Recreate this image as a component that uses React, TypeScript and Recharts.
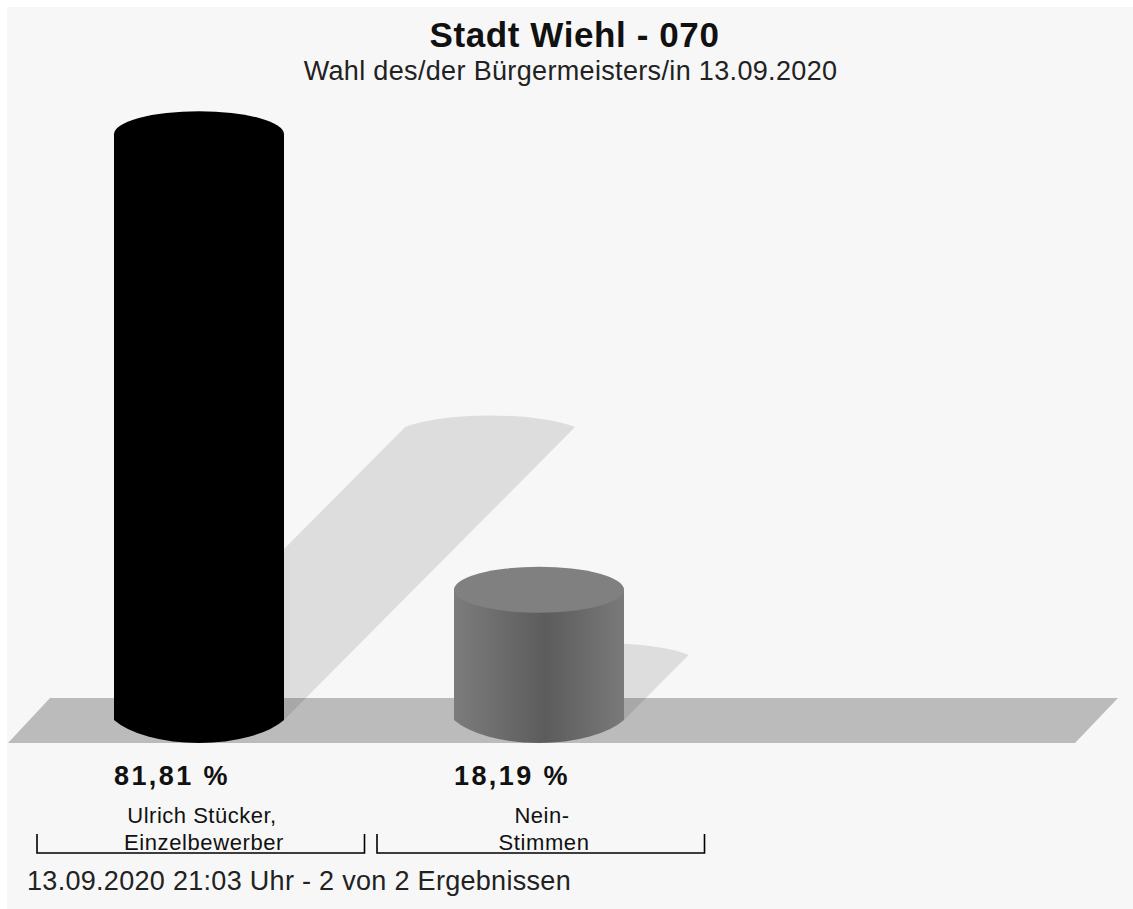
import React from "react";
import { BarChart, Bar, XAxis, YAxis, LabelList } from "recharts";

const categories = ["Ulrich Stücker,|Einzelbewerber", "Nein-|Stimmen"];
const shares = [81.81, 18.19];
const shareLabels = ["81,81 %", "18,19 %"];
const barFills = ["black", "grey"];
const titleText = "Stadt Wiehl - 070";
const subtitleText = "Wahl des/der Bürgermeisters/in 13.09.2020";
const footerText = "13.09.2020 21:03 Uhr - 2 von 2 Ergebnissen";

const data = categories.map((c, i) => ({ category: c, share: shares[i], label: shareLabels[i], fill: barFills[i] }));
const FONT = "'Liberation Sans', Arial, sans-serif";

const RX = 85, RY = 23;

function Cylinder(props: any) {
  const { x, y, width, height, payload } = props;
  const base = y + height;
  const right = x + width;
  const cx = x + width / 2;
  const dark = payload.fill === "black";
  const side = dark ? "#000" : "url(#cylSide)";
  const top = dark ? "#000" : "#808080";
  const dy = height / 2;
  const dx = height * 0.497;
  return (
    <g>
      <path
        d={`M${x} ${base} L${x + dx} ${base - dy} A95 21 0 0 1 ${right + dx} ${base - dy} L${right} ${base} Z`}
        fill="#000" fillOpacity={0.1}
      />
      <path
        d={`M${x} ${y} L${right} ${y} L${right} ${base} A95 41.6 0 0 1 ${x} ${base} Z`}
        fill={side}
      />
      <ellipse cx={cx} cy={y} rx={RX} ry={RY} fill={top} />
    </g>
  );
}

function CategoryTick(props: any) {
  const { x, y, payload } = props;
  const [a, b] = String(payload.value).split("|");
  const base = 853 - y;
  const left = x - 162;
  const right = x + 165.5;
  return (
    <g>
      <path d={`M${left} ${y + base - 19} V${y + base} H${right} V${y + base - 19}`} fill="none" stroke="#000" strokeWidth={1.6} />
      <text x={x + 3} y={823} textAnchor="middle" fontFamily={FONT} fontSize={22} letterSpacing={0.5} fill="#111">{a}</text>
      <text x={x + 5} y={850} textAnchor="middle" fontFamily={FONT} fontSize={22} letterSpacing={0.6} fill="#111">{b}</text>
    </g>
  );
}

function ShareLabel(props: any) {
  const { x, index } = props;
  return (
    <text x={x} y={785} fontFamily={FONT} fontSize={27} fontWeight="bold" letterSpacing={2.4} fill="#111">
      {shareLabels[index]}
    </text>
  );
}

export default function App() {
  return (
    <div style={{ position: "absolute", left: 0, top: 0, width: 1133, height: 909, background: "#fff" }}>
      <BarChart
        width={1133}
        height={909}
        data={data}
        margin={{ top: 4, right: 424, bottom: 159, left: 29 }}
      >
        <defs>
          <linearGradient id="cylSide" x1="0" y1="0" x2="1" y2="0">
            <stop offset="0" stopColor="#7c7c7c" />
            <stop offset="0.54" stopColor="#5c5c5c" />
            <stop offset="1" stopColor="#7a7a7a" />
          </linearGradient>
        </defs>
        <rect x={7} y={7} width={1126} height={902} fill="#f7f7f7" />
        <polygon points="8,743 1075,743 1118,698 50,698" fill="#bbbbbb" />
        <text x={574.5} y={47} textAnchor="middle" fontFamily={FONT} fontSize={35} letterSpacing={0.6} fontWeight="bold" fill="#111">{titleText}</text>
        <text x={570.5} y={80} textAnchor="middle" fontFamily={FONT} fontSize={27} letterSpacing={0.34} fill="#222">{subtitleText}</text>
        <text x={27} y={890} fontFamily={FONT} fontSize={27} letterSpacing={0.3} fill="#222">{footerText}</text>
        <XAxis dataKey="category" axisLine={false} tickLine={false} tick={<CategoryTick />} interval={0} />
        <YAxis hide domain={[0, 100]} />
        <Bar dataKey="share" barSize={170} shape={<Cylinder />} isAnimationActive={false}>
          <LabelList dataKey="label" content={<ShareLabel />} />
        </Bar>
      </BarChart>
    </div>
  );
}
